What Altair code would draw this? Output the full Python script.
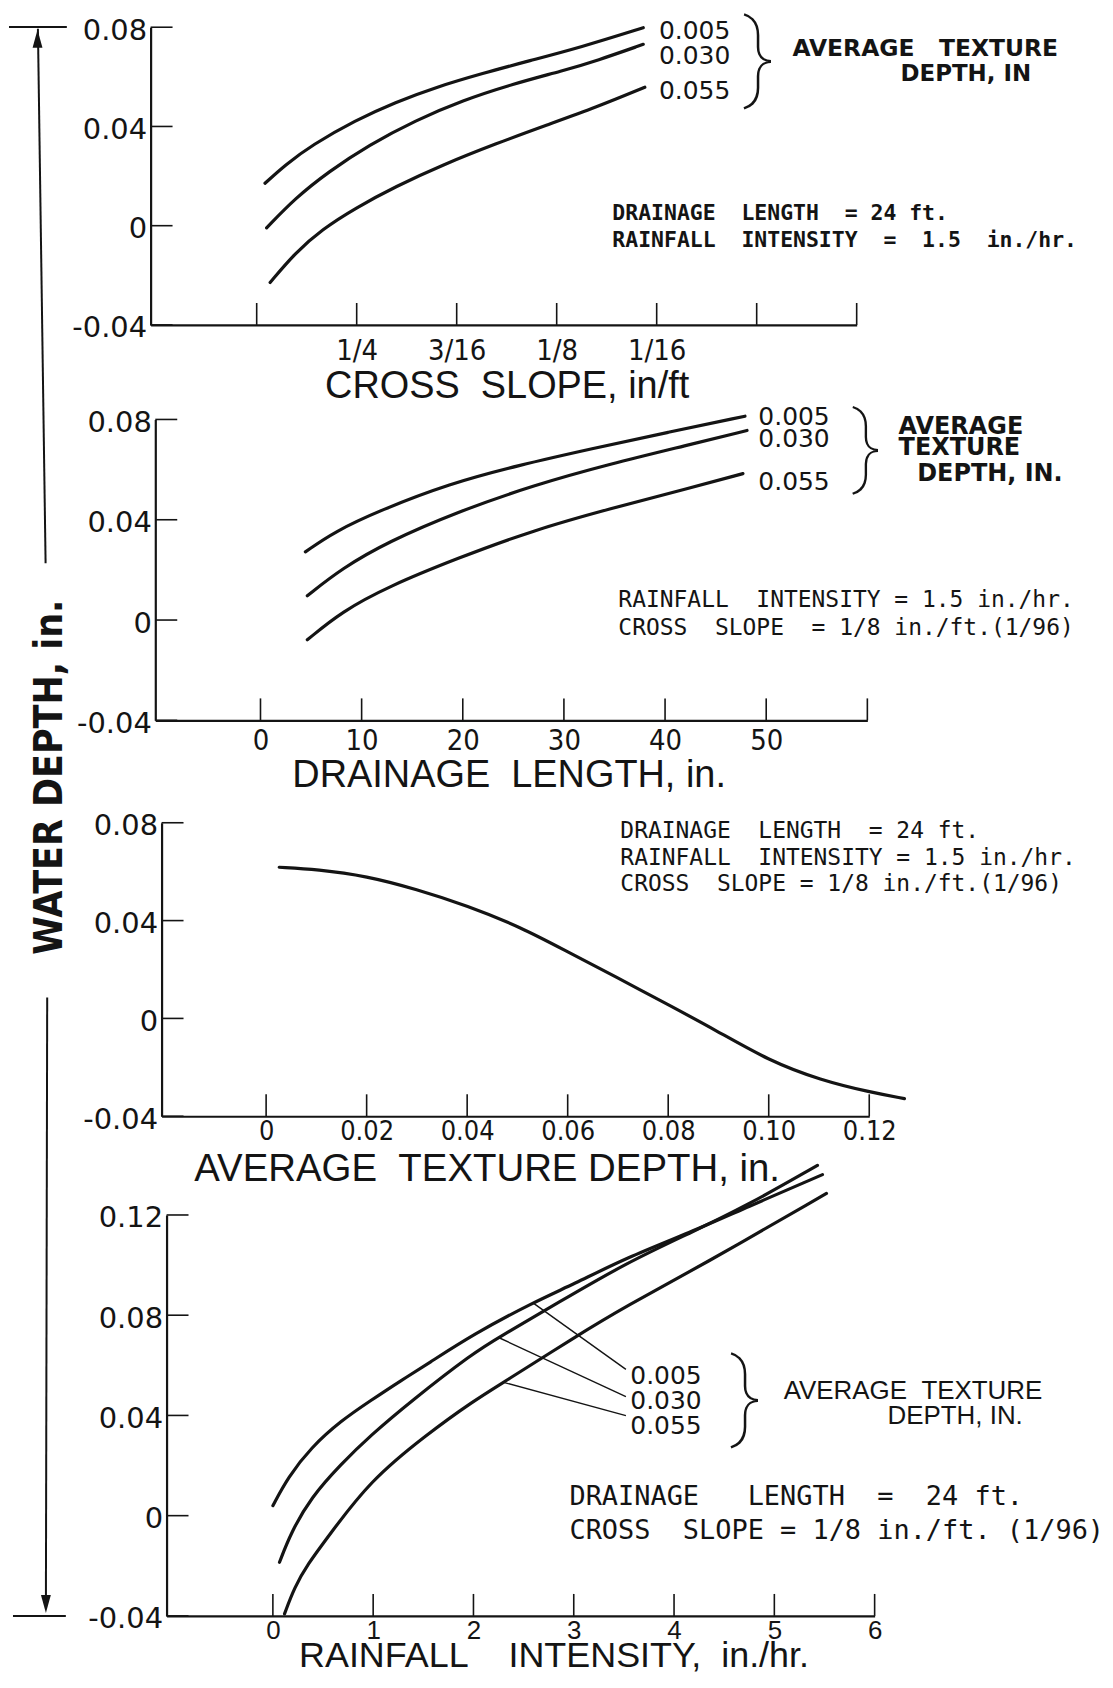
import altair as alt
import pandas as pd

INK = "#141414"

# ---------------- data ----------------
SERIES = ["0.005", "0.030", "0.055"]   # average texture depth, in.

# Panel 1 - water depth vs cross slope (in/ft)
CS_SLOPE_A = [0.3073, 0.2947, 0.2780, 0.2508, 0.2257, 0.2006, 0.1713, 0.1420, 0.1106, 0.0709]
CS_DEPTH_A = [0.0171, 0.0245, 0.0325, 0.0425, 0.0498, 0.0558, 0.0614, 0.0665, 0.0718, 0.0798]
CS_SLOPE_B = [0.3063, 0.2884, 0.2675, 0.2424, 0.2131, 0.1839, 0.1525, 0.1209, 0.1000, 0.0709]
CS_DEPTH_B = [-0.0009, 0.0111, 0.0218, 0.0325, 0.0425, 0.0505, 0.0571, 0.0625, 0.0665, 0.0731]
CS_SLOPE_C = [0.3041, 0.2884, 0.2717, 0.2508, 0.2257, 0.1964, 0.1629, 0.1315, 0.1000, 0.0699]
CS_DEPTH_C = [-0.0229, -0.0109, -0.0015, 0.0071, 0.0158, 0.0245, 0.0331, 0.0405, 0.0478, 0.0558]

# Panel 2 - water depth vs drainage length
DL_LEN_A = [4.44, 7.29, 11.85, 18.68, 25.5, 32.73, 40.3, 47.9]
DL_DEPTH_A = [0.0272, 0.0352, 0.0438, 0.0544, 0.0617, 0.0683, 0.0749, 0.0813]
DL_LEN_B = [4.63, 8.05, 12.6, 19.44, 27.03, 34.62, 42.2, 48.1]
DL_DEPTH_B = [0.0097, 0.0206, 0.0312, 0.0431, 0.0538, 0.0623, 0.0697, 0.0756]
DL_LEN_C = [4.63, 8.05, 12.6, 19.44, 27.03, 34.62, 42.2, 47.7]
DL_DEPTH_C = [-0.0079, 0.0034, 0.0133, 0.0246, 0.0359, 0.0445, 0.0524, 0.0584]

# Panel 3 - water depth vs average texture depth
TD_TEXTURE = [0.0026, 0.0102, 0.02, 0.0299, 0.04, 0.0507, 0.06, 0.0695, 0.08, 0.0892, 0.10, 0.1104, 0.12, 0.1270]
TD_DEPTH = [0.0618, 0.0609, 0.0582, 0.0528, 0.0461, 0.0373, 0.0272, 0.0171, 0.0056, -0.0045, -0.0173, -0.0253, -0.0301, -0.0328]

# Panel 4 - water depth vs rainfall intensity
RI_RAIN_A = [0.0, 0.15, 0.38, 0.68, 0.97, 1.28, 1.54, 2.0, 2.59, 3.0, 3.53, 4.16, 4.72, 5.48]
RI_DEPTH_A = [0.0040, 0.0153, 0.0272, 0.0379, 0.0458, 0.0540, 0.0605, 0.0724, 0.0850, 0.0924, 0.1030, 0.1130, 0.1230, 0.1361]
RI_RAIN_B = [0.066, 0.18, 0.38, 0.68, 0.97, 1.38, 2.0, 2.25, 2.84, 3.53, 4.16, 4.72, 5.43]
RI_DEPTH_B = [-0.0186, -0.0068, 0.0073, 0.0206, 0.0319, 0.0458, 0.0650, 0.0711, 0.0849, 0.1010, 0.1128, 0.1236, 0.1398]
RI_RAIN_C = [0.116, 0.215, 0.348, 0.547, 0.968, 1.54, 2.0, 2.3, 3.0, 3.53, 4.26, 5.52]
RI_DEPTH_C = [-0.0392, -0.0286, -0.0193, -0.0086, 0.0140, 0.0326, 0.0458, 0.0532, 0.0710, 0.0838, 0.0995, 0.1286]

# tick values / labels
CS_TICKS = [0.3125, 0.25, 0.1875, 0.125, 0.0625, 0.0, -0.0625]
CS_LABEL_VALUES = [0.25, 0.1875, 0.125, 0.0625]
CS_LABELS = ["1/4", "3/16", "1/8", "1/16"]
DL_TICKS = [0, 10, 20, 30, 40, 50, 60]
DL_LABEL_VALUES = [0, 10, 20, 30, 40, 50]
DL_LABELS = ["0", "10", "20", "30", "40", "50"]
TD_TICKS = [0, 0.02, 0.04, 0.06, 0.08, 0.1, 0.12]
TD_LABELS = ["0", "0.02", "0.04", "0.06", "0.08", "0.10", "0.12"]
RI_TICKS = [0, 1, 2, 3, 4, 5, 6]
RI_LABELS = ["0", "1", "2", "3", "4", "5", "6"]
WD_TICKS = [-0.04, 0, 0.04, 0.08]
WD_LABELS = ["-0.04", "0", "0.04", "0.08"]
WD_TICKS_4 = [-0.04, 0, 0.04, 0.08, 0.12]
WD_LABELS_4 = ["-0.04", "0", "0.04", "0.08", "0.12"]

# ---------------- styling ----------------
NARROW = "Liberation Sans Narrow, DejaVu Sans Condensed, Arial Narrow, Liberation Sans, sans-serif"
GOTHIC = "DejaVu Sans, Verdana, sans-serif"
MONO = "DejaVu Sans Mono, Liberation Mono, monospace"
PLAIN = "Liberation Sans, Arial, sans-serif"
BRACE_FONT = "Roboto, Inter, Noto Sans, sans-serif"
ONE = alt.Data(values=[{}])


def keep(s):
    # SVG collapses runs of spaces; non-breaking spaces keep the wide lettering gaps
    return s.replace(" ", "\u00a0")


def long_df(xs_list, ys_list, names):
    rows = []
    for s, xs, ys in zip(names, xs_list, ys_list):
        for i, (x, y) in enumerate(zip(xs, ys)):
            rows.append({"series": s, "x": x, "y": y, "i": i})
    return pd.DataFrame(rows)


def label_expr(values, labels):
    parts = [f"datum.value == {v} ? '{l}'" for v, l in zip(values, labels)]
    return " : ".join(parts) + " : ''"


def note(x, y, txt, size, font=GOTHIC, weight="normal", align="left", angle=0):
    return alt.Chart(ONE).mark_text(
        text=keep(txt), align=align, baseline="middle", font=font, fontSize=size,
        fontWeight=weight, color=INK, angle=angle,
    ).encode(x=alt.value(x), y=alt.value(y))


def brace(x, y, size):
    return alt.Chart(ONE).mark_text(
        text="}", align="center", baseline="middle", font=BRACE_FONT,
        fontSize=size, fontWeight=100, color=INK,
    ).encode(x=alt.value(x), y=alt.value(y))


def seg(x1, y1, x2, y2, width=2.0, opacity=1.0):
    return alt.Chart(ONE).mark_rule(color=INK, strokeWidth=width, opacity=opacity).encode(
        x=alt.value(x1), y=alt.value(y1), x2=alt.value(x2), y2=alt.value(y2))


def head(x, y, up=True):
    path = "M0,-1L0.55,1L-0.55,1Z" if up else "M0,1L0.55,-1L-0.55,-1Z"
    return alt.Chart(ONE).mark_point(shape=path, filled=True, size=324, color=INK,
                                     opacity=1, strokeWidth=0).encode(
        x=alt.value(x), y=alt.value(y))


def panel(df, xdom, dx, w, gap, ph, ydom, x_ticks, x_label_values, x_labels,
          y_ticks, y_labels, title, title_x, title_y, title_size, x_label_pad,
          x_label_size, x_label_font, extras, title_baseline="top"):
    H = gap + ph
    xs = alt.Scale(domain=xdom, range=[dx, dx + w], zero=False, nice=False)
    ys = alt.Scale(domain=ydom, range=[H, gap], zero=False, nice=False)
    xaxis = alt.Axis(
        values=x_label_values, labelExpr=label_expr(x_label_values, x_labels),
        ticks=False, tickSize=0, grid=False, domainColor=INK, domainWidth=2.2,
        labelFont=x_label_font, labelFontSize=x_label_size, labelColor=INK,
        labelPadding=x_label_pad, labelBaseline="top", labelFlush=False,
        labelOverlap=False, title=keep(title), titleFont=PLAIN, titleFontSize=title_size,
        titleFontWeight="normal", titleColor=INK, titleX=title_x, titleY=title_y,
        titleBaseline=title_baseline, titleAlign="center",
    )
    yaxis = alt.Axis(
        values=y_ticks, labelExpr=label_expr(y_ticks, y_labels), ticks=False,
        tickSize=0, grid=False, domainColor=INK, domainWidth=2.2, offset=-dx,
        labelFont=GOTHIC, labelFontSize=29, labelColor=INK, labelPadding=4,
        labelOffset=3, labelFlush=False, labelOverlap=False, title=None,
    )
    curves = alt.Chart(df).mark_line(
        color=INK, strokeWidth=3.2, interpolate="basis", strokeCap="round"
    ).encode(
        x=alt.X("x:Q", scale=xs, axis=xaxis),
        y=alt.Y("y:Q", scale=ys, axis=yaxis),
        detail="series:N", order="i:Q",
    )
    xt = alt.Chart(pd.DataFrame({"v": x_ticks})).mark_rule(color=INK, strokeWidth=1.6).encode(
        x=alt.X("v:Q", scale=xs, axis=xaxis), y=alt.value(H), y2=alt.value(H - 22))
    yt = alt.Chart(pd.DataFrame({"v": y_ticks})).mark_rule(color=INK, strokeWidth=1.6).encode(
        y=alt.Y("v:Q", scale=ys, axis=yaxis), x=alt.value(dx), x2=alt.value(dx + 22))
    layers = [curves, xt, yt]
    for e in extras:
        if isinstance(e, tuple):
            layers.append(e[0](xs, ys, xaxis, yaxis))
        else:
            layers.append(e)
    return alt.layer(*layers).properties(width=dx + w, height=H)


# ---------------- panel 1: cross slope ----------------
df1 = long_df([CS_SLOPE_A, CS_SLOPE_B, CS_SLOPE_C], [CS_DEPTH_A, CS_DEPTH_B, CS_DEPTH_C], SERIES)
p1_extras = [
    seg(-60, -16.5, -50, -16.5, width=0.5, opacity=0),   # layout anchor (invisible)
    seg(-142, -0.2, -84, -0.2, 2.0),
    seg(-113, 1.5, -105.3, 537.5, 2.0),
    head(-113.4, 11.5, up=True),
    note(509.7, 4.3, "0.005", 25),
    note(509.7, 28.8, "0.030", 25),
    note(509.7, 64.3, "0.055", 25),
    brace(610, 33, 96),
    note(643.6, 22.2, "AVERAGE   TEXTURE", 23.5, weight="bold"),
    note(883, 47.2, "DEPTH, IN", 23, weight="bold", align="right"),
    note(463, 187, "DRAINAGE  LENGTH  = 24 ft.", 21.5, font=MONO, weight="bold"),
    note(463, 214.5, "RAINFALL  INTENSITY  =  1.5  in./hr.", 21.5, font=MONO, weight="bold"),
]
p1 = panel(df1, [0.3788, -0.0625], 0, 708, 0, 298.5, [-0.04, 0.08],
           CS_TICKS, CS_LABEL_VALUES, CS_LABELS, WD_TICKS, WD_LABELS,
           "CROSS  SLOPE, in/ft", 357, 43, 38, 12, 29, NARROW, p1_extras)

# ---------------- panel 2: drainage length ----------------
df2 = long_df([DL_LEN_A, DL_LEN_B, DL_LEN_C], [DL_DEPTH_A, DL_DEPTH_B, DL_DEPTH_C], SERIES)
p2_extras = [
    note(609.4, 92, "0.005", 25),
    note(609.4, 113.7, "0.030", 25),
    note(609.4, 157, "0.055", 25),
    brace(718, 124, 90),
    note(750, 101.7, "AVERAGE", 24, weight="bold"),
    note(750, 123, "TEXTURE", 24, weight="bold"),
    note(768.7, 149, "DEPTH, IN.", 24, weight="bold"),
    note(469, 275.5, "RAINFALL  INTENSITY = 1.5 in./hr.", 23, font=MONO),
    note(469, 303.7, "CROSS  SLOPE  = 1/8 in./ft.(1/96)", 23, font=MONO),
    note(-101.2, 453, "WATER DEPTH, in.", 39, font="DejaVu Sans Condensed, DejaVu Sans",
         weight="bold", align="center", angle=270),
]
p2 = panel(df2, [-10.4, 60], 4.7, 714, 94.3, 301.7, [-0.04, 0.08],
           DL_TICKS, DL_LABEL_VALUES, DL_LABELS, WD_TICKS, WD_LABELS,
           "DRAINAGE  LENGTH, in.", 359, 36, 38, 6, 29, NARROW, p2_extras)

# ---------------- panel 3: texture depth ----------------
df3 = pd.DataFrame({"series": "td", "x": TD_TEXTURE, "y": TD_DEPTH, "i": range(len(TD_DEPTH))})
p3_extras = [
    note(471, 111, "DRAINAGE  LENGTH  = 24 ft.", 23, font=MONO),
    note(471, 137.7, "RAINFALL  INTENSITY = 1.5 in./hr.", 23, font=MONO),
    note(471, 164.3, "CROSS  SLOPE = 1/8 in./ft.(1/96)", 23, font=MONO),
]
p3 = panel(df3, [-0.0208, 0.12], 11, 709.6, 102.7, 294.3, [-0.04, 0.08],
           TD_TICKS, TD_TICKS, TD_LABELS, WD_TICKS, WD_LABELS,
           "AVERAGE  TEXTURE DEPTH, in.", 337, 34, 38.5, 2, 27, NARROW, p3_extras)

# ---------------- panel 4: rainfall intensity ----------------
df4 = long_df([RI_RAIN_A, RI_RAIN_B, RI_RAIN_C], [RI_DEPTH_A, RI_DEPTH_B, RI_DEPTH_C], SERIES)
LEADERS = pd.DataFrame({
    "x": [2.59, 2.25, 2.30], "y": [0.0850, 0.0711, 0.0532],
    "x2": [3.52, 3.52, 3.52], "y2": [0.0584, 0.0475, 0.0399],
})


def leaders(xs, ys, xaxis, yaxis):
    return alt.Chart(LEADERS).mark_rule(color=INK, strokeWidth=1.4).encode(
        x=alt.X("x:Q", scale=xs, axis=xaxis), y=alt.Y("y:Q", scale=ys, axis=yaxis),
        x2="x2:Q", y2="y2:Q")


p4_extras = [
    (leaders,),
    seg(-103.7, -119, -105, 490, 2.0),
    head(-105, 489, up=False),
    seg(-138, 501, -85, 501, 2.0),
    note(481, 260.7, "0.005", 25),
    note(481, 285.7, "0.030", 25),
    note(481, 310.7, "0.055", 25),
    brace(597, 284, 96),
    note(634.8, 275.7, "AVERAGE  TEXTURE", 26, font=PLAIN),
    note(874.6, 300.7, "DEPTH, IN.", 26, font=PLAIN, align="right"),
    note(420, 382.3, "DRAINAGE   LENGTH  =  24 ft.", 27, font=MONO),
    note(420, 416, "CROSS  SLOPE = 1/8 in./ft. (1/96)", 27, font=MONO),
]
p4 = panel(df4, [-1.06, 6], 16, 710, 99, 402, [-0.04, 0.12],
           RI_TICKS, RI_TICKS, RI_LABELS, WD_TICKS_4, WD_LABELS_4,
           "RAINFALL    INTENSITY,  in./hr.", 404, 51, 36, 2, 26, PLAIN, p4_extras,
           title_baseline="alphabetic")

chart = alt.vconcat(p1, p2, p3, p4, spacing=0, bounds="flush").properties(
    padding={"left": 0, "top": 0, "right": 0, "bottom": 1}, background="white"
).configure_view(stroke=None)

chart.save("out.html", embed_options={"renderer": "svg", "actions": False})
